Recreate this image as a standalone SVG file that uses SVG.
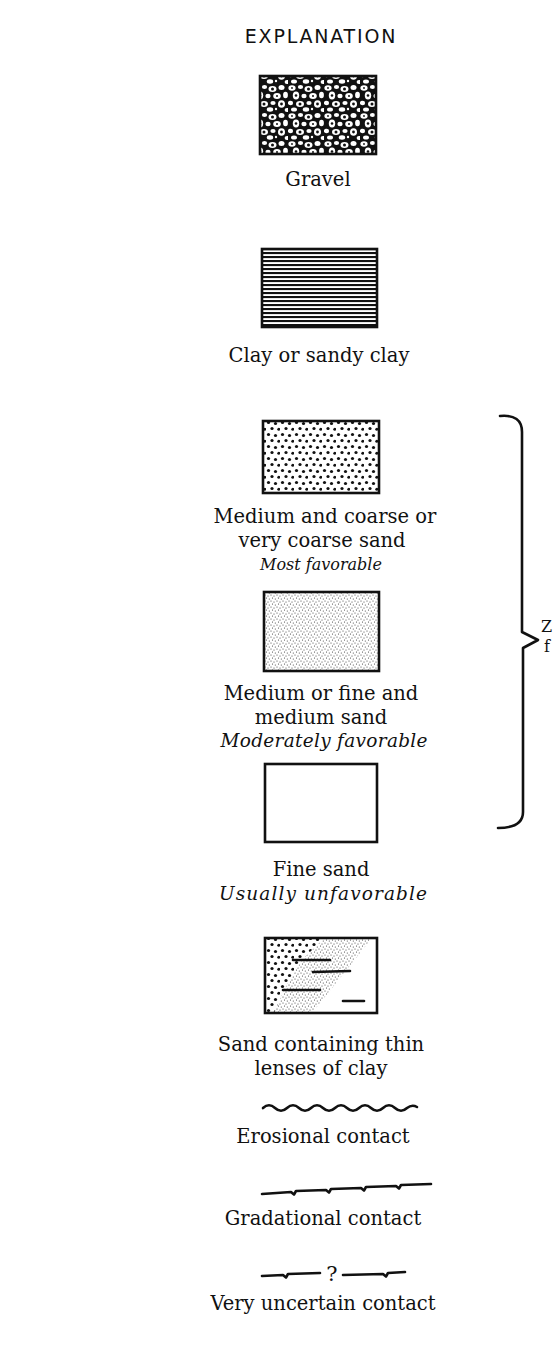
<svg xmlns="http://www.w3.org/2000/svg" width="553" height="1347" viewBox="0 0 553 1347">
<style>
.t{font-family:"DejaVu Serif","Liberation Serif",serif;font-size:19.5px;fill:#111;text-anchor:middle}
.i{font-style:italic;font-size:16px}
.i2{font-style:italic;font-size:18.5px}
.s{font-size:16px;text-anchor:start}
.q{font-size:21px}
.h{font-family:"DejaVu Sans","Liberation Sans",sans-serif;font-size:19px;letter-spacing:1.8px;fill:#111;text-anchor:middle}
.box{stroke:#111;stroke-width:2.6}
.ln{fill:none;stroke:#111;stroke-width:2.6;stroke-linecap:round;stroke-linejoin:round}
</style>
<defs>
<pattern id="gravel" width="36" height="28" patternUnits="userSpaceOnUse">
<rect width="36" height="28" fill="#111"/>
<g fill="#fff">
<ellipse cx="4" cy="4" rx="3.6" ry="2.8"/>
<ellipse cx="12.5" cy="3" rx="2.6" ry="2"/>
<ellipse cx="20.5" cy="5" rx="4" ry="3"/>
<ellipse cx="29.5" cy="3.5" rx="3" ry="2.5"/>
<ellipse cx="8" cy="11.5" rx="3.2" ry="4"/>
<ellipse cx="16" cy="12" rx="2.6" ry="2.2"/>
<ellipse cx="25" cy="12" rx="3.8" ry="3"/>
<ellipse cx="33.5" cy="11" rx="2.4" ry="3.2"/>
<ellipse cx="2.5" cy="19" rx="2.6" ry="2.2"/>
<ellipse cx="12" cy="20" rx="4" ry="3"/>
<ellipse cx="21" cy="19" rx="2.6" ry="2.1"/>
<ellipse cx="29.5" cy="20" rx="3.5" ry="3.8"/>
<ellipse cx="6" cy="25.5" rx="3" ry="2"/>
<ellipse cx="18" cy="25.5" rx="3.2" ry="2.2"/>
<ellipse cx="35" cy="26" rx="2.4" ry="2"/>
<circle cx="24" cy="25" r="1.2"/>
</g>
<g fill="#111">
<circle cx="20.5" cy="5" r="1.5"/>
<circle cx="12" cy="20" r="1.5"/>
<circle cx="29.5" cy="20" r="1.4"/>
<circle cx="8" cy="11.5" r="1.3"/>
<circle cx="25" cy="12" r="1"/>
<circle cx="4" cy="4" r="0.9"/>
</g>
</pattern>
<pattern id="clay" width="10" height="4" patternUnits="userSpaceOnUse">
<rect width="10" height="4" fill="#fff"/>
<rect y="0" width="10" height="2.1" fill="#111"/>
</pattern>
<pattern id="coarse" width="14" height="12" patternUnits="userSpaceOnUse">
<rect width="14" height="12" fill="#fff"/>
<g fill="#111">
<circle cx="2.5" cy="2.5" r="1.6"/>
<circle cx="9.5" cy="3.5" r="1.6"/>
<circle cx="6" cy="8.5" r="1.6"/>
<circle cx="12.8" cy="9.2" r="1.5"/>
</g>
</pattern>
<pattern id="fine" width="6" height="6" patternUnits="userSpaceOnUse">
<rect width="6" height="6" fill="#fff"/>
<g fill="#333">
<circle cx="1" cy="1" r="0.55"/>
<circle cx="4" cy="2" r="0.55"/>
<circle cx="2.5" cy="4" r="0.55"/>
<circle cx="5.3" cy="5" r="0.55"/>
</g>
</pattern>
<clipPath id="lensclip"><rect x="265" y="938" width="112" height="75"/></clipPath>
</defs>

<text class="h" x="321" y="43">EXPLANATION</text>

<g id="gravel-node">
<rect class="box" x="260" y="76" width="116" height="78" fill="url(#gravel)"/>
<text class="t" x="318" y="186">Gravel</text>
</g>

<g id="clay-node">
<rect class="box" x="262" y="249" width="115" height="78" fill="url(#clay)"/>
<text class="t" x="319" y="362">Clay or sandy clay</text>
</g>

<g id="coarse-sand-node">
<rect class="box" x="263" y="421" width="116" height="72" fill="url(#coarse)"/>
<text class="t" x="325" y="523">Medium and coarse or</text>
<text class="t" x="322" y="547">very coarse sand</text>
<text class="t i" x="321" y="570">Most favorable</text>
</g>

<g id="medium-sand-node">
<rect class="box" x="264" y="592" width="115" height="79" fill="url(#fine)"/>
<text class="t" x="321" y="700">Medium or fine and</text>
<text class="t" x="321" y="724">medium sand</text>
<text class="t i2" x="324" y="747" textLength="207">Moderately favorable</text>
</g>

<g id="fine-sand-node">
<rect class="box" x="265" y="764" width="112" height="78" fill="#fff"/>
<text class="t" x="321" y="876">Fine sand</text>
<text class="t i2" x="323" y="900" textLength="208">Usually unfavorable</text>
</g>

<g id="lenses-node">
<rect x="265" y="938" width="112" height="75" fill="#fff"/>
<g clip-path="url(#lensclip)">
<polygon points="265,938 372,938 312,1013 265,1013" fill="url(#fine)"/>
<polygon points="265,938 324,938 302,960 285,988 274,1013 265,1013" fill="url(#coarse)"/>
</g>
<g class="ln" stroke-width="1.8">
<path d="M293,960 L330,960"/>
<path d="M313,972 L350,971"/>
<path d="M283,990 L320,990"/>
<path d="M343,1001 L364,1001"/>
</g>
<rect class="box" x="265" y="938" width="112" height="75" fill="none"/>
<text class="t" x="321" y="1051">Sand containing thin</text>
<text class="t" x="321" y="1075">lenses of clay</text>
</g>

<g id="erosional-node">
<path class="ln" d="M263,1108 q6,-5.5 12,0 q6,5.5 12,0 q6,-5.5 12,0 q6,5.5 12,0 q6,-5.5 12,0 q6,5.5 12,0 q6,-5.5 12,0 q6,5.5 12,0 q6,-5.5 12,0 q6,5.5 12,0 q6,-5.5 12,0 q6,5.5 12,0 q5,-4 10,-1"/>
<text class="t" x="323" y="1143">Erosional contact</text>
</g>

<g id="gradational-node">
<path class="ln" d="M262,1194 L291,1192 l3,2.5 l2,-3.5 L326,1190 l3,2.5 l2,-3.5 L361,1188 l3,2.5 l2,-3.5 L396,1186 l3,2.5 l2,-3.5 L431,1184"/>
<text class="t" x="323" y="1225">Gradational contact</text>
</g>

<g id="uncertain-node">
<path class="ln" d="M262,1276 L283,1275 l3,2.5 l2,-3.5 L320,1273"/>
<path class="ln" d="M343,1275 L383,1274 l3,2.5 l2,-3.5 L405,1272"/>
<text class="t q" x="332" y="1281">?</text>
<text class="t" x="323" y="1310">Very uncertain contact</text>
</g>

<g id="connectors">
<path class="ln" d="M500,416 Q522,414 522,432 L522,632 L538,640 L523,648 L523,812 Q523,828 498,828"/>
</g>
<g id="brace-label">
<text class="t s" x="541" y="632">Z</text>
<text class="t s" x="544" y="652">f</text>
</g>
</svg>
